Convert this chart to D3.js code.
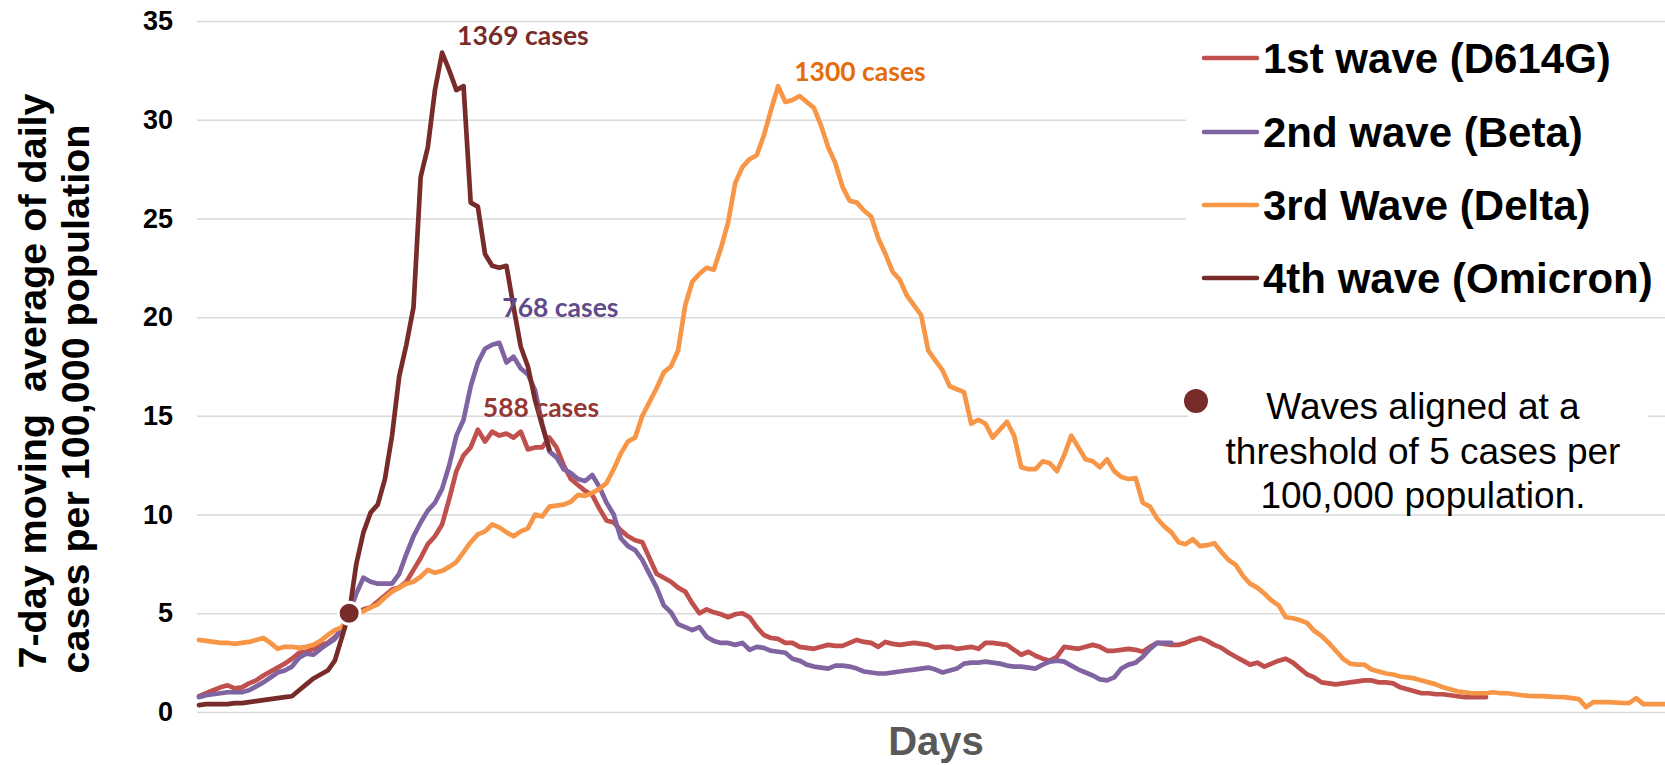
<!DOCTYPE html>
<html>
<head>
<meta charset="utf-8">
<script src="https://cdn.jsdelivr.net/npm/d3@7"></script>
<style>
  html, body { margin: 0; padding: 0; background: #ffffff; }
  svg { display: block; }
</style>
</head>
<body>
<svg id="chart" width="1665" height="765"></svg>
<script>
// ---------------- DATA ----------------
const seriesNames = ["1st wave (D614G)", "2nd wave (Beta)", "3rd Wave (Delta)", "4th wave (Omicron)"];
const yTicks = [0, 5, 10, 15, 20, 25, 30, 35];
const xLabel = "Days";
const yLabelLines = ["7-day moving  average of daily", "cases per 100,000 population"];
const noteLines = ["Waves aligned at a", "threshold of 5 cases per", "100,000 population."];
const alignDay = 21;
const alignValue = 5;

// 1st wave (D614G) — 7-day moving average per 100,000, one value per day
const wave1 = [0.8,0.95,1.1,1.25,1.35,1.2,1.25,1.45,1.6,1.85,2.05,2.25,2.45,2.7,3.0,3.05,3.2,3.4,3.5,3.8,
  4.2,5.0,5.0,5.2,5.3,5.6,5.9,6.2,6.3,6.6,7.2,7.8,8.5,8.9,9.5,10.8,12.2,13.0,13.4,14.3,
  13.7,14.2,14.0,14.1,13.9,14.2,13.3,13.4,13.4,13.9,13.4,12.5,11.8,11.5,11.2,11.0,10.3,9.7,9.6,9.2,
  8.9,8.7,8.6,7.8,7.0,6.8,6.6,6.3,6.1,5.5,5.0,5.2,5.05,4.95,4.8,4.95,5.0,4.8,4.3,3.9,
  3.75,3.7,3.5,3.5,3.3,3.25,3.2,3.3,3.4,3.35,3.35,3.5,3.65,3.55,3.5,3.3,3.55,3.45,3.4,3.45,
  3.5,3.45,3.4,3.25,3.3,3.3,3.2,3.25,3.3,3.2,3.5,3.5,3.45,3.4,3.15,2.9,3.05,2.85,2.7,2.6,
  2.8,3.3,3.25,3.2,3.3,3.4,3.3,3.1,3.1,3.15,3.2,3.15,3.05,3.3,3.5,3.45,3.4,3.4,3.5,3.65,
  3.75,3.6,3.4,3.25,3.0,2.8,2.6,2.4,2.5,2.3,2.45,2.6,2.7,2.5,2.2,1.9,1.75,1.5,1.45,1.4,
  1.45,1.5,1.55,1.6,1.6,1.5,1.5,1.45,1.25,1.15,1.05,0.95,0.95,0.9,0.9,0.85,0.8,0.75,0.75,0.75,0.75];

// 2nd wave (Beta)
const wave2 = [0.75,0.85,0.9,0.95,1.0,1.0,1.0,1.1,1.3,1.5,1.75,2.0,2.1,2.3,2.75,2.95,2.9,3.2,3.45,3.7,
  4.2,5.0,6.0,6.8,6.6,6.5,6.5,6.5,7.0,8.0,8.9,9.6,10.2,10.6,11.3,12.5,14.0,14.8,16.5,17.7,
  18.4,18.6,18.7,17.7,18.0,17.4,17.1,16.3,14.6,13.2,12.9,12.3,12.1,11.8,11.7,12.0,11.4,10.6,10.0,8.8,
  8.4,8.2,7.7,7.0,6.3,5.4,5.05,4.45,4.3,4.15,4.3,3.8,3.6,3.5,3.5,3.4,3.5,3.15,3.3,3.25,
  3.1,3.05,3.0,2.7,2.6,2.4,2.3,2.25,2.2,2.35,2.35,2.3,2.2,2.05,2.0,1.95,1.95,2.0,2.05,2.1,
  2.15,2.2,2.25,2.15,2.0,2.1,2.2,2.45,2.5,2.5,2.55,2.5,2.45,2.35,2.3,2.3,2.25,2.2,2.4,2.55,
  2.6,2.55,2.35,2.15,2.0,1.85,1.65,1.6,1.75,2.2,2.4,2.5,2.8,3.2,3.5,3.5,3.5];

// 3rd Wave (Delta)
const wave3 = [3.65,3.6,3.55,3.5,3.5,3.45,3.5,3.55,3.65,3.75,3.5,3.2,3.3,3.3,3.25,3.3,3.4,3.6,3.9,4.15,
  4.3,5.0,4.95,5.1,5.3,5.45,5.8,6.1,6.3,6.5,6.6,6.85,7.2,7.05,7.15,7.35,7.6,8.1,8.6,9.0,
  9.15,9.5,9.35,9.1,8.9,9.15,9.3,10.0,9.9,10.4,10.45,10.5,10.65,11.0,10.95,11.1,11.3,11.6,12.3,13.1,
  13.7,13.9,15.0,15.7,16.4,17.2,17.5,18.3,20.6,21.8,22.2,22.5,22.4,23.5,24.8,26.8,27.6,28.0,28.2,29.2,
  30.5,31.7,30.9,31.0,31.2,30.9,30.6,29.7,28.6,27.8,26.6,25.9,25.8,25.4,25.1,24.0,23.2,22.3,21.9,21.1,
  20.6,20.1,18.3,17.8,17.3,16.5,16.35,16.2,14.6,14.8,14.6,13.9,14.3,14.7,14.0,12.4,12.3,12.3,12.7,12.6,
  12.2,13.0,14.0,13.4,12.8,12.7,12.4,12.8,12.2,11.9,11.8,11.85,10.6,10.4,9.8,9.4,9.1,8.6,8.5,8.75,
  8.4,8.45,8.55,8.1,7.7,7.45,6.9,6.5,6.3,6.0,5.65,5.4,4.8,4.75,4.65,4.5,4.1,3.85,3.5,3.1,
  2.7,2.45,2.4,2.4,2.15,2.05,1.95,1.9,1.8,1.75,1.7,1.6,1.5,1.4,1.25,1.15,1.05,1.0,0.95,0.95,
  0.95,1.0,0.95,0.95,0.9,0.85,0.82,0.8,0.8,0.78,0.76,0.75,0.7,0.65,0.25,0.5,0.5,0.5,0.48,0.46,
  0.45,0.7,0.4,0.4,0.4,0.4];

// 4th wave (Omicron)
const wave4 = [0.35,0.4,0.4,0.4,0.4,0.45,0.45,0.5,0.55,0.6,0.65,0.7,0.75,0.8,1.1,1.4,1.7,1.9,2.1,2.6,
  3.8,5.0,7.5,9.1,10.1,10.5,11.8,14.0,17.0,18.6,20.5,27.1,28.6,31.5,33.4,32.5,31.5,31.7,25.8,25.6,
  23.2,22.6,22.5,22.6,20.5,18.5,17.5,15.8,14.5,13.3];

const peakLabels = ["588 cases", "768 cases", "1300 cases", "1369 cases"];
const seriesData = [wave1, wave2, wave3, wave4];

// ---------------- STYLE ----------------
const lineColors  = ["#C0504D", "#8064A2", "#F79646", "#772C2A"];
const labelColors = ["#953735", "#5F4B8B", "#E46C0A", "#772C2A"];

const W = 1665, H = 765;
const plot = { left: 197, right: 1665, top: 21, bottom: 712 };
const svg = d3.select("#chart");

const x = d3.scaleLinear().domain([0, 205]).range([199, 199 + 205 * 7.15]);
const y = d3.scaleLinear().domain([0, 35]).range([plot.bottom, plot.top]);

// gridlines
const grid = svg.append("g").attr("transform", `translate(${plot.left},0)`)
  .call(d3.axisRight(y).tickValues(yTicks).tickSize(plot.right - plot.left).tickFormat(""));
grid.select(".domain").remove();
grid.selectAll("line").attr("stroke", "#D9D9D9").attr("stroke-width", 1.5);

// y tick labels
const yAxis = svg.append("g").attr("transform", `translate(${plot.left},0)`)
  .call(d3.axisLeft(y).tickValues(yTicks).tickSize(0).tickPadding(24));
yAxis.select(".domain").remove();
yAxis.selectAll("text")
  .attr("font-family", "'Liberation Sans', Arial, sans-serif")
  .attr("font-weight", "bold").attr("font-size", 27).attr("fill", "#000");

// white boxes for legend and note (cover gridlines)
svg.append("rect").attr("x", 1186).attr("y", 26).attr("width", W - 1186).attr("height", 286).attr("fill", "#fff");
svg.append("rect").attr("x", 1188).attr("y", 386).attr("width", 460).attr("height", 122).attr("fill", "#fff");

// lines
const line = d3.line().x((d, i) => x(i)).y(d => y(d)).curve(d3.curveLinear);
seriesData.forEach((arr, k) => {
  svg.append("path").datum(arr)
    .attr("d", line)
    .attr("fill", "none")
    .attr("stroke", lineColors[k])
    .attr("stroke-width", 4.7)
    .attr("stroke-linejoin", "round")
    .attr("stroke-linecap", "round");
});

// alignment marker
svg.append("circle").attr("cx", x(alignDay)).attr("cy", y(alignValue)).attr("r", 11)
  .attr("fill", "#772C2A").attr("stroke", "#fff").attr("stroke-width", 3);

// peak labels, anchored to peak of each series
const labelOffsets = [[5, -13], [3, -26], [16, -5], [15, -8]];
seriesData.forEach((arr, k) => {
  const pi = d3.maxIndex(arr);
  svg.append("text")
    .attr("x", x(pi) + labelOffsets[k][0])
    .attr("y", y(arr[pi]) + labelOffsets[k][1])
    .attr("font-family", "Lato, 'Open Sans', sans-serif")
    .attr("font-weight", "bold").attr("font-size", 26.5)
    .attr("fill", labelColors[k])
    .text(peakLabels[k]);
});

// legend
const legendY = [58, 132, 205, 278];
seriesNames.forEach((name, k) => {
  svg.append("line").attr("x1", 1204).attr("x2", 1257).attr("y1", legendY[k]).attr("y2", legendY[k])
    .attr("stroke", lineColors[k]).attr("stroke-width", 4.5).attr("stroke-linecap", "round");
  svg.append("text").attr("x", 1263).attr("y", legendY[k] + 15)
    .attr("font-family", "'Liberation Sans', Arial, sans-serif")
    .attr("font-weight", "bold").attr("font-size", 42).attr("fill", "#000")
    .text(name);
});

// note with marker
svg.append("circle").attr("cx", 1196).attr("cy", 401).attr("r", 12).attr("fill", "#772C2A");
noteLines.forEach((t, i) => {
  svg.append("text").attr("x", 1423).attr("y", 419 + i * 44.5)
    .attr("text-anchor", "middle")
    .attr("font-family", "'Liberation Sans', Arial, sans-serif")
    .attr("font-size", 37).attr("fill", "#000")
    .text(t);
});

// axis titles
svg.append("text").attr("x", 936).attr("y", 755).attr("text-anchor", "middle")
  .attr("font-family", "'Liberation Sans', Arial, sans-serif")
  .attr("font-weight", "bold").attr("font-size", 40).attr("fill", "#595959")
  .text(xLabel);

const yt = svg.append("text")
  .attr("transform", `translate(0, 0) rotate(-90)`)
  .attr("text-anchor", "middle")
  .attr("font-family", "'Liberation Sans', Arial, sans-serif")
  .attr("font-weight", "bold").attr("font-size", 39.5).attr("fill", "#000")
  .style("white-space", "pre");
yt.append("tspan").attr("x", -381).attr("y", 46).text(yLabelLines[0]);
yt.append("tspan").attr("x", -399).attr("y", 89).text(yLabelLines[1]);
</script>
</body>
</html>
